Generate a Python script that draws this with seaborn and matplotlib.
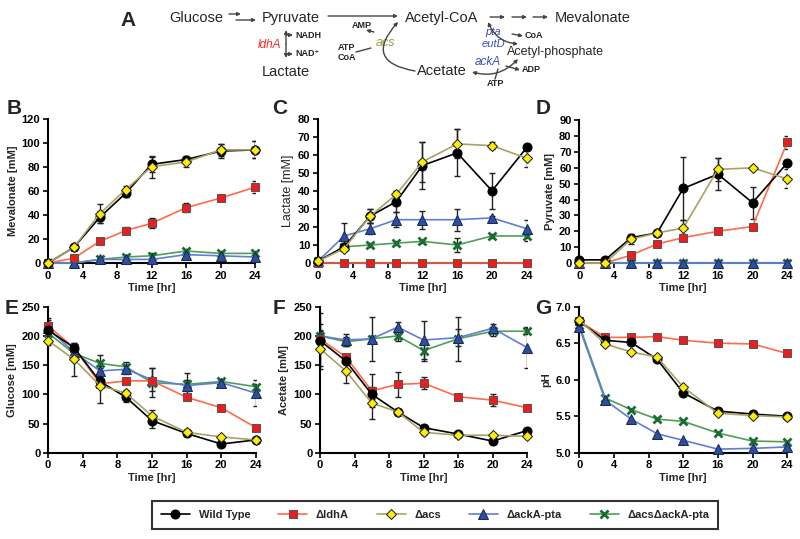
import seaborn as sns
import matplotlib.pyplot as plt
import numpy as np
import pandas as pd

sns.set_style('ticks')
plt.rcParams['font.family'] = ['Liberation Sans', 'DejaVu Sans']

time_hr = [0, 3, 6, 9, 12, 16, 20, 24]
strains = ['Wild Type', '\u0394ldhA', '\u0394acs', '\u0394ackA-pta', '\u0394acs\u0394ackA-pta']

# mevalonate [mM]
meva_wt = [0, 13, 38, 58, 82, 86, 93, 94]
meva_ldha = [0, 4, 18, 27, 33, 46, 54, 63]
meva_acs = [0, 13, 41, 61, 80, 84, 94, 94]
meva_ackpta = [0, 0, 3, 3, 3, 7, 6, 5]
meva_dbl = [0, 0, 3, 5, 6, 10, 8, 8]
meva_err_wt = [0, 2, 5, 3, 6, 3, 6, 7]
meva_err_ldha = [0, 1, 2, 3, 4, 4, 2, 5]
meva_err_acs = [0, 2, 8, 3, 9, 4, 5, 7]
meva_err_ackpta = [0, 0, 1, 1, 1, 2, 2, 2]
meva_err_dbl = [0, 0, 1, 2, 2, 2, 2, 2]

# lactate [mM]
lact_wt = [1, 9, 26, 34, 54, 61, 40, 64]
lact_ldha = [0, 0, 0, 0, 0, 0, 0, 0]
lact_acs = [1, 8, 26, 38, 56, 66, 65, 58]
lact_ackpta = [1, 15, 19, 24, 24, 24, 25, 19]
lact_dbl = [1, 9, 10, 11, 12, 10, 15, 15]
lact_err_wt = [0, 2, 4, 6, 13, 13, 10, 2]
lact_err_ldha = [0, 0, 0, 0, 0, 0, 0, 0]
lact_err_acs = [0, 1, 4, 2, 11, 8, 2, 5]
lact_err_ackpta = [0, 7, 3, 4, 5, 6, 1, 5]
lact_err_dbl = [0, 1, 1, 1, 1, 4, 1, 3]

# pyruvate [mM]
pyr_wt = [2, 2, 16, 19, 47, 56, 38, 63]
pyr_ldha = [0, 0, 5, 12, 16, 20, 23, 76]
pyr_acs = [0, 0, 15, 19, 22, 59, 60, 53]
pyr_ackpta = [0, 0, 0, 0, 0, 0, 0, 0]
pyr_dbl = [0, 0, 0, 0, 0, 0, 0, 0]
pyr_err_wt = [0, 0, 1, 1, 20, 10, 10, 2]
pyr_err_ldha = [0, 0, 1, 1, 2, 1, 1, 4]
pyr_err_acs = [0, 0, 3, 2, 5, 7, 1, 6]
pyr_err_ackpta = [0, 0, 0, 0, 0, 0, 0, 0]
pyr_err_dbl = [0, 0, 0, 0, 0, 0, 0, 0]

# glucose [mM]
glc_wt = [210, 180, 122, 95, 55, 33, 15, 22]
glc_ldha = [217, 180, 118, 123, 123, 95, 77, 43]
glc_acs = [192, 160, 115, 102, 63, 35, 27, 22]
glc_ackpta = [213, 172, 140, 143, 125, 115, 120, 102]
glc_dbl = [205, 170, 153, 147, 120, 117, 122, 113]
glc_err_wt = [20, 8, 10, 8, 12, 5, 4, 3]
glc_err_ldha = [10, 6, 5, 4, 5, 5, 5, 3]
glc_err_acs = [8, 28, 30, 6, 10, 4, 3, 3]
glc_err_ackpta = [10, 8, 8, 8, 20, 10, 5, 22]
glc_err_dbl = [12, 8, 15, 8, 25, 20, 5, 5]

# acetate [mM]
ace_wt = [192, 157, 100, 70, 43, 32, 20, 38]
ace_ldha = [195, 164, 106, 117, 119, 96, 90, 77]
ace_acs = [178, 140, 85, 70, 35, 30, 30, 28]
ace_ackpta = [200, 193, 195, 215, 193, 197, 213, 180]
ace_dbl = [200, 190, 195, 200, 175, 195, 208, 208]
ace_err_wt = [48, 5, 8, 4, 4, 4, 5, 3]
ace_err_ldha = [10, 5, 28, 21, 10, 5, 10, 4]
ace_err_acs = [30, 20, 27, 4, 4, 3, 4, 3]
ace_err_ackpta = [20, 10, 5, 8, 33, 15, 8, 35]
ace_err_dbl = [10, 8, 38, 8, 18, 38, 8, 5]

# pH
ph_wt = [6.80, 6.54, 6.51, 6.28, 5.82, 5.57, 5.53, 5.50]
ph_ldha = [6.80, 6.58, 6.58, 6.59, 6.54, 6.50, 6.49, 6.36]
ph_acs = [6.82, 6.49, 6.38, 6.31, 5.90, 5.54, 5.51, 5.49]
ph_ackpta = [6.72, 5.72, 5.46, 5.26, 5.17, 5.05, 5.06, 5.08]
ph_dbl = [6.75, 5.75, 5.59, 5.46, 5.43, 5.27, 5.16, 5.15]

panels = {
    'Mevalonate [mM]': ([meva_wt, meva_ldha, meva_acs, meva_ackpta, meva_dbl],
                        [meva_err_wt, meva_err_ldha, meva_err_acs, meva_err_ackpta, meva_err_dbl]),
    'Lactate [mM]': ([lact_wt, lact_ldha, lact_acs, lact_ackpta, lact_dbl],
                     [lact_err_wt, lact_err_ldha, lact_err_acs, lact_err_ackpta, lact_err_dbl]),
    'Pyruvate [mM]': ([pyr_wt, pyr_ldha, pyr_acs, pyr_ackpta, pyr_dbl],
                      [pyr_err_wt, pyr_err_ldha, pyr_err_acs, pyr_err_ackpta, pyr_err_dbl]),
    'Glucose [mM]': ([glc_wt, glc_ldha, glc_acs, glc_ackpta, glc_dbl],
                     [glc_err_wt, glc_err_ldha, glc_err_acs, glc_err_ackpta, glc_err_dbl]),
    'Acetate [mM]': ([ace_wt, ace_ldha, ace_acs, ace_ackpta, ace_dbl],
                     [ace_err_wt, ace_err_ldha, ace_err_acs, ace_err_ackpta, ace_err_dbl]),
    'pH': ([ph_wt, ph_ldha, ph_acs, ph_ackpta, ph_dbl], None),
}

# line colour, marker, marker face, marker edge, size
styles = [
    dict(color='black', marker='o', markerfacecolor='black', markeredgecolor='black', markersize=6.5),
    dict(color='#ff6a4a', marker='s', markerfacecolor='#ee1c1c', markeredgecolor='#555555', markersize=6),
    dict(color='#a8a266', marker='D', markerfacecolor='#ffee00', markeredgecolor='#222222', markersize=5),
    dict(color='#5f7fd6', marker='^', markerfacecolor='#2e4f9f', markeredgecolor='#1a2a55', markersize=6.5),
    dict(color='#4f9f55', marker='x', markerfacecolor='#1d6b35', markeredgecolor='#1d6b35', markersize=6, markeredgewidth=2),
]
draw_order = [4, 3, 1, 0, 2]

rects = {
    'Mevalonate [mM]': [0.060, 0.512, 0.259, 0.268],
    'Lactate [mM]': [0.3975, 0.512, 0.261, 0.268],
    'Pyruvate [mM]': [0.724, 0.512, 0.260, 0.265],
    'Glucose [mM]': [0.060, 0.160, 0.260, 0.271],
    'Acetate [mM]': [0.400, 0.160, 0.259, 0.271],
    'pH': [0.724, 0.160, 0.260, 0.271],
}
ylims = {'Mevalonate [mM]': (0, 120, 20), 'Lactate [mM]': (0, 80, 10), 'Pyruvate [mM]': (0, 90, 10),
         'Glucose [mM]': (0, 250, 50), 'Acetate [mM]': (0, 250, 50), 'pH': (5.0, 7.0, 0.5)}
letters = {'Mevalonate [mM]': ('B', 14, 109), 'Lactate [mM]': ('C', 280, 109), 'Pyruvate [mM]': ('D', 543, 109),
           'Glucose [mM]': ('E', 12, 308), 'Acetate [mM]': ('F', 279, 308), 'pH': ('G', 543, 308)}

fig = plt.figure(figsize=(8, 5.39), dpi=100)
handles = []
for name, (series, errs) in panels.items():
    ax = fig.add_axes(rects[name])
    df = pd.DataFrame({'time': time_hr})
    for i in draw_order:
        df['val'] = series[i]
        st = styles[i]
        if errs is not None:
            e = np.array(errs[i])
            m = e > 0
            ax.errorbar(np.array(time_hr)[m], np.array(series[i])[m], yerr=e[m], fmt='none',
                        ecolor='#222222', elinewidth=1, capsize=2.5, capthick=1, zorder=2)
        sns.lineplot(data=df, x='time', y='val', ax=ax, linewidth=1.2, clip_on=False, zorder=3,
                     errorbar=None, label=strains[i], **st)
    lo, hi, step = ylims[name]
    ax.set_xlim(0, 24)
    ax.set_ylim(lo, hi)
    ax.set_xticks(range(0, 25, 4))
    ax.set_yticks(np.arange(lo, hi + step / 2, step))
    if name == 'pH':
        ax.set_yticklabels(['%.1f' % v for v in np.arange(lo, hi + step / 2, step)])
    for lab in ax.get_xticklabels() + ax.get_yticklabels():
        lab.set_fontweight('bold')
        lab.set_fontsize(8)
    ax.set_xlabel('Time [hr]', fontsize=8, fontweight='bold', labelpad=2)
    if name == 'Lactate [mM]':
        ax.set_ylabel(name, fontsize=9, labelpad=3)
    else:
        ax.set_ylabel(name, fontsize=8, fontweight='bold', labelpad=3)
    sns.despine(ax=ax)
    for s in ['left', 'bottom']:
        ax.spines[s].set_linewidth(1.5)
        ax.spines[s].set_color('black')
    ax.tick_params(direction='out', length=3.5, width=1.2, pad=2, colors='black')
    if not handles:
        h, l = ax.get_legend_handles_labels()
        handles = dict(zip(l, h))
    ax.get_legend().remove()
    t, px, py = letters[name]
    fig.text(px / 800, 1 - py / 539, t, fontsize=15, fontweight='bold', ha='center', va='center')

fig.legend([handles[s] for s in strains], strains, loc='center', bbox_to_anchor=(0.544, 0.045), ncol=5,
           frameon=True, fancybox=False, edgecolor='black', handlelength=2.6, columnspacing=2.5,
           prop={'weight': 'bold', 'size': 8}, borderpad=0.8).get_frame().set_linewidth(1.5)

# panel A: pathway sketch in pixel coordinates
dax = fig.add_axes([0, 0, 1, 1], zorder=-1)
dax.set_xlim(0, 800)
dax.set_ylim(539, 0)
dax.axis('off')
big = dict(fontsize=10.5, va='center')
small = dict(fontsize=6.5, fontweight='bold', va='center')
blue = '#3a4fb5'
dax.text(128, 20, 'A', fontsize=15, fontweight='bold', ha='center', va='center')
dax.text(169, 18, 'Glucose', **big)
dax.text(262, 18, 'Pyruvate', **big)
dax.text(405, 18, 'Acetyl-CoA', **big)
dax.text(555, 18, 'Mevalonate', **big)
dax.text(262, 72, 'Lactate', **big)
dax.text(417, 71, 'Acetate', **big)
dax.text(507, 52, 'Acetyl-phosphate', fontsize=9, va='center')
dax.text(281, 45, 'ldhA', fontsize=8.5, style='italic', color='#ee2b24', ha='right', va='center')
dax.text(295, 35, 'NADH', **small)
dax.text(295, 54, 'NAD\u207a', **small)
dax.text(352, 25, 'AMP', **small)
dax.text(338, 47, 'ATP', **small)
dax.text(338, 57, 'CoA', **small)
dax.text(376, 43, 'acs', fontsize=9, style='italic', color='#9b9a3c', va='center')
dax.text(493, 32, 'pta', fontsize=8, style='italic', color=blue, ha='center', va='center')
dax.text(493, 44, 'eutD', fontsize=8, style='italic', color=blue, ha='center', va='center')
dax.text(475, 62, 'ackA', fontsize=8.5, style='italic', color=blue, va='center')
dax.text(525, 35, 'CoA', **small)
dax.text(522, 70, 'ADP', **small)
dax.text(487, 84, 'ATP', **small)

arr = dict(arrowstyle='-|>', color='#444444', lw=1, mutation_scale=5, shrinkA=0, shrinkB=0)
arr2 = dict(arrowstyle='<|-|>', color='#444444', lw=1, mutation_scale=5, shrinkA=0, shrinkB=0)
def arrow(p0, p1, props=arr, rad=0.0):
    dax.annotate('', xy=p1, xytext=p0, arrowprops=dict(props, connectionstyle='arc3,rad=%s' % rad))

arrow((229, 14), (241, 14))
arrow((236, 20), (256, 20))
arrow((328, 16), (398, 16))
arrow((490, 17), (505, 17))
arrow((512, 17), (527, 17))
arrow((533, 17), (548, 17))
arrow((286, 44), (286, 30))
arrow((286, 44), (286, 58))
arrow((286, 35), (293, 35))
arrow((286, 54), (293, 54))
arrow((415, 71), (398, 22), rad=-0.9)
arrow((374, 32), (366, 30))
dax.plot([356, 371], [52, 48], color='#444444', lw=1)
arrow((518, 44), (488, 22), props=arr2, rad=-0.3)
arrow((512, 34), (523, 36))
arrow((518, 59), (472, 72), props=arr2, rad=-0.3)
arrow((506, 66), (520, 70))
dax.plot([495, 498], [79, 69], color='#444444', lw=1)

plt.savefig('out.png', dpi=100)
